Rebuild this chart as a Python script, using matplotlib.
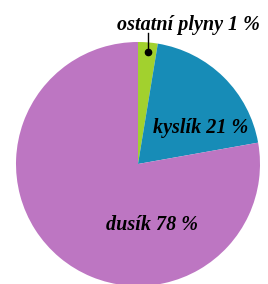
import matplotlib as m
m.use('Agg')
import matplotlib.pyplot as plt

# shares as drawn in the picture (labels carry the stated percentages)
gases = ['ostatní plyny', 'kyslík', 'dusík']
shares = [2.6, 19.6, 77.8]
label_pct = [1, 21, 78]
colors = ['#a2d12e', '#178cb7', '#bd76c2']


def main():
  fig = plt.figure(figsize=(2.68, 2.84), dpi=100)
  ax = fig.add_axes([0, 0, 1, 1])

  ax.pie(shares, colors=colors, startangle=90, counterclock=False,
         center=(138, 120), radius=122, frame=True,
         wedgeprops={'linewidth': 0})
  ax.set_xlim(0, 268)
  ax.set_ylim(0, 284)
  ax.set_aspect('auto')
  ax.axis('off')

  font = {'family': 'Liberation Serif', 'weight': 'bold', 'style': 'italic',
          'size': 14.5}
  txt = [g + ' ' + str(p) + ' %' for g, p in zip(gases, label_pct)]
  ax.text(188, 259, txt[0], ha='center', va='center', **font)
  ax.text(201, 156, txt[1], ha='center', va='center', **font)
  ax.text(152, 59, txt[2], ha='center', va='center', **font)

  # leader for the small slice
  ax.plot([148, 148], [251, 232], color='black', lw=1)
  ax.plot([148], [232], 'o', color='black', ms=4.5)

  fig.savefig('out.png', dpi=100)


if __name__ == '__main__':
  main()
